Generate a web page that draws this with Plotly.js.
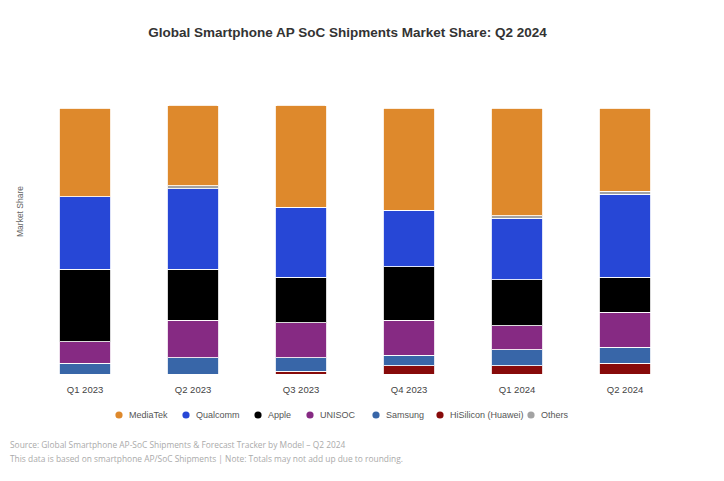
<!DOCTYPE html>
<html>
<head>
<meta charset="utf-8">
<script src="https://cdn.plot.ly/plotly-3.0.1.min.js"></script>
<style>html,body{margin:0;padding:0;background:#fff;}#chart{width:724px;height:481px;}</style>
</head>
<body>
<div id="chart"></div>
<script>
// ---- data ----
const quarters = ['Q1 2023', 'Q2 2023', 'Q3 2023', 'Q4 2023', 'Q1 2024', 'Q2 2024'];
const mediatek  = [33, 30, 38, 38, 40, 31];
const qualcomm  = [27, 30, 26, 21, 23, 31];
const apple     = [27, 19, 17, 20, 17, 13];
const unisoc    = [8, 14, 13, 13, 9, 13];
const samsung   = [4, 6, 5, 4, 6, 6];
const hisilicon = [0, 0, 1, 3, 3, 4];
const others    = [0, 1, 0, 0, 1, 1];
const seriesNames = ['MediaTek', 'Qualcomm', 'Apple', 'UNISOC', 'Samsung', 'HiSilicon (Huawei)', 'Others'];

// ---- styles ----
const colors = {
  'MediaTek': '#de892c',
  'Qualcomm': '#2747d6',
  'Apple': '#000000',
  'UNISOC': '#862a83',
  'Samsung': '#3866a8',
  'HiSilicon (Huawei)': '#870a0a',
  'Others': '#a3a3a3'
};
const valuesByName = {
  'MediaTek': mediatek, 'Qualcomm': qualcomm, 'Apple': apple, 'UNISOC': unisoc,
  'Samsung': samsung, 'HiSilicon (Huawei)': hisilicon, 'Others': others
};
// stacking order bottom -> top
const stackOrder = ['HiSilicon (Huawei)', 'Samsung', 'UNISOC', 'Apple', 'Qualcomm', 'Others', 'MediaTek'];

const traces = stackOrder.map(name => ({
  type: 'bar',
  name: name,
  x: quarters,
  y: valuesByName[name],
  marker: { color: colors[name], line: { color: 'rgba(255,255,255,0.85)', width: 1 } },
  showlegend: false,
  hoverinfo: 'skip'
}));

// plot geometry (pixels) for paper conversions
const W = 724, H = 481, ml = 31, mr = 45, mt = 100, mb = 107;
const pw = W - ml - mr, ph = H - mt - mb;
const px2x = p => (p - ml) / pw;
const py2y = p => (H - mb - p) / ph;

// custom legend
const legendMarkerX = [119, 186, 258, 310, 376, 440, 531];
const legendY = 415;
const shapes = [];
const annotations = [];
seriesNames.forEach((name, i) => {
  shapes.push({
    type: 'circle', xref: 'paper', yref: 'paper',
    xsizemode: 'pixel', ysizemode: 'pixel',
    xanchor: px2x(legendMarkerX[i]), yanchor: py2y(legendY),
    x0: -3.6, x1: 3.6, y0: -3.6, y1: 3.6,
    fillcolor: colors[name], line: { width: 0 }
  });
  annotations.push({
    xref: 'paper', yref: 'paper', x: px2x(legendMarkerX[i] + 8), y: py2y(legendY),
    xanchor: 'left', yanchor: 'middle', showarrow: false, text: name,
    font: { family: 'Liberation Sans, Arial, sans-serif', size: 9, color: '#555' }
  });
});

annotations.push({
  xref: 'paper', yref: 'paper', x: px2x(20), y: py2y(212), textangle: -90,
  xanchor: 'center', yanchor: 'middle', showarrow: false, text: 'Market Share',
  font: { family: 'Liberation Sans, Arial, sans-serif', size: 8.5, color: '#666' }
});
annotations.push({
  xref: 'paper', yref: 'paper', x: px2x(8), y: py2y(444),
  xanchor: 'left', yanchor: 'middle', showarrow: false,
  text: 'Source: Global Smartphone AP-SoC Shipments &amp; Forecast Tracker by Model – Q2 2024',
  font: { family: 'Open Sans, sans-serif', size: 8.4, color: '#aaa' }
});
annotations.push({
  xref: 'paper', yref: 'paper', x: px2x(8), y: py2y(458),
  xanchor: 'left', yanchor: 'middle', showarrow: false,
  text: 'This data is based on smartphone AP/SoC Shipments | Note: Totals may not add up due to rounding.',
  font: { family: 'Open Sans, sans-serif', size: 8.4, color: '#aaa' }
});

const layout = {
  width: W, height: H,
  margin: { l: ml, r: mr, t: mt, b: mb, pad: 0 },
  paper_bgcolor: '#ffffff', plot_bgcolor: '#ffffff',
  barmode: 'stack', bargap: 0.52, barcornerradius: 2,
  title: {
    text: '<b>Global Smartphone AP SoC Shipments Market Share: Q2 2024</b>',
    font: { family: 'Liberation Sans, Arial, sans-serif', size: 13.5, color: '#333' },
    xref: 'container', yref: 'container', x: 347.5 / W, y: 1 - 32 / H,
    xanchor: 'center', yanchor: 'middle'
  },
  xaxis: {
    type: 'category', showline: false, showgrid: false, zeroline: false, ticks: '',
    ticklabelstandoff: 8,
    tickfont: { family: 'Liberation Sans, Arial, sans-serif', size: 9.5, color: '#444' }
  },
  yaxis: {
    range: [0, 102], showticklabels: false, showgrid: false, zeroline: false, showline: false, ticks: ''
  },
  showlegend: false,
  hovermode: false,
  shapes: shapes,
  annotations: annotations
};

Plotly.newPlot('chart', traces, layout, { displayModeBar: false, staticPlot: true });
</script>
</body>
</html>
